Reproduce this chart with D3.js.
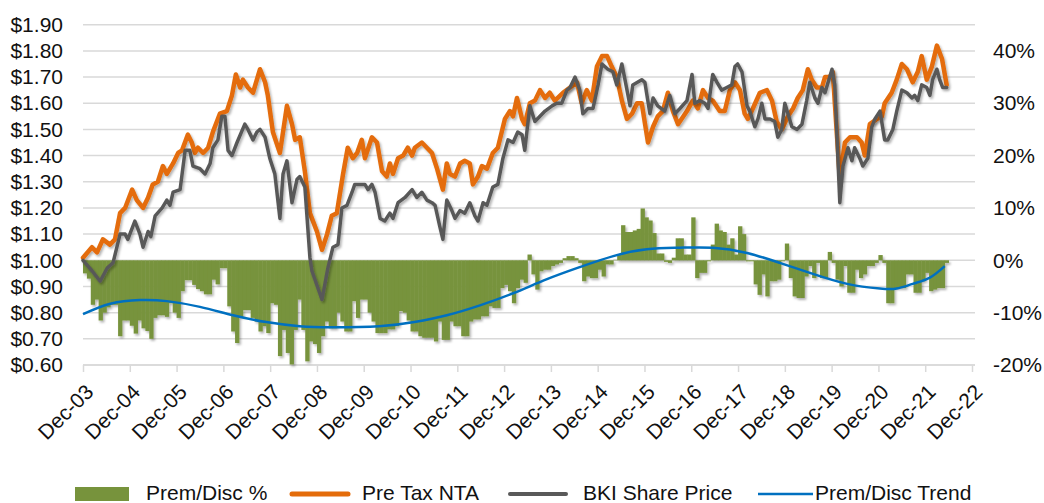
<!DOCTYPE html>
<html>
<head>
<meta charset="utf-8">
<script src="https://cdn.jsdelivr.net/npm/d3@7"></script>
<style>
	body { margin: 0; background: #fff; }
	svg { display: block; font-family: "Liberation Sans", Arial, sans-serif; }
</style>
</head>
<body>
<svg id="chart" width="1044" height="503"></svg>
<script>
/*********************************************************\
* BKI premium / discount to pre tax NTA                   *
\*********************************************************/

// x values are months since Dec-03
var yearLabels = ['Dec-03','Dec-04','Dec-05','Dec-06','Dec-07','Dec-08','Dec-09',
	'Dec-10','Dec-11','Dec-12','Dec-13','Dec-14','Dec-15','Dec-16','Dec-17',
	'Dec-18','Dec-19','Dec-20','Dec-21','Dec-22'];
var priceTicks = [0.6,0.7,0.8,0.9,1.0,1.1,1.2,1.3,1.4,1.5,1.6,1.7,1.8,1.9];
var pctTicks = [-20,-10,0,10,20,30,40];

// monthly premium / discount, %
var premDisc = [
	-2.5,-3.5,-8.5,-7.5,-11.5,-10,-9,-8.5,-8.5,-14.5,-11.5,-11.5,
	-12.5,-14,-11.5,-13,-13.5,-15,-11,-10.5,-10.5,-10.8,-8.2,-10,
	-11,-5.9,-3.8,-3.8,-4.7,-5.5,-5.9,-6.5,-6.5,-3.7,-4.6,-1.5,
	-1.5,-8.8,-13.6,-15.8,-10.8,-9.5,-9.5,-11,-11.7,-13.6,-12.6,-13.9,
	-8.2,-8.5,-18.3,-13.3,-17.7,-19.9,-13.3,-7.5,-13.3,-19.3,-15.5,-16,
	-17.7,-14.5,-11.7,-13,-13,-10,-11.7,-13.6,-13.6,-7.8,-11,-7.5,
	-7.5,-10,-11.7,-13.9,-13.9,-13.9,-13.2,-13.2,-12.6,-9.7,-10,-11.5,
	-13.6,-13.6,-14.5,-14.8,-14.8,-14.8,-15.5,-11.7,-15.2,-15.2,-11.7,-12.6,
	-12.6,-14.5,-14.5,-11.7,-11.3,-11.3,-10.7,-10.7,-8.8,-9.1,-9.1,-5.3,
	-4.7,-5.9,-8.2,-5.3,-3.7,-4.3,1.1,-2.7,-5.6,-2.1,-1.8,-1.8,
	-1.1,-0.8,-0.5,0.4,0.8,0.8,0.4,-0.5,-4,-3.1,-3.4,-3.4,
	-1.8,-3.1,-0.8,-0.8,0.1,1.1,6.7,5.4,5.4,5.7,6,9.9,
	8.2,7.6,5.2,1.3,1.3,-0.3,-0.5,0.5,4.2,4.2,1.1,1.1,
	8.2,-3.4,-2.4,-2.4,-0.2,3,7,5.7,5.4,3,4.2,1.1,
	6.5,5,-0.2,-0.2,-4.6,-6.6,-2.7,-6.9,-4,-4,-3.7,-0.2,
	3.2,-3.4,-6.9,-7.2,-7.2,-3.1,-1.1,-3.4,-0.5,-3.4,-3.4,1.6,
	-0.5,-3.7,-5,-1.1,-6.2,-6.2,-1.8,-3.4,-2.7,-1.1,-1.1,-0.5,
	1,-0.5,-8.2,-8.2,-5.3,-5.3,-5.3,-2.7,-2.7,-6.2,-6.2,-4,
	-2.4,-5.9,-5.6,-5.3,-5.3,-0.5
];

// [month, $]
var preTaxNta = [
	[0,1.01],[2.3,1.05],[3.6,1.03],[5.1,1.08],[6.9,1.06],[8.2,1.08],[9.5,1.18],[10.8,1.20],
	[12.6,1.27],[13.8,1.23],[15.4,1.20],[16.7,1.24],[17.9,1.29],[19.2,1.30],[20.5,1.36],[21.5,1.33],
	[23.1,1.37],[24.4,1.41],[25.4,1.42],[26.9,1.48],[27.9,1.45],[28.7,1.41],[29.5,1.43],[30.8,1.41],
	[32.1,1.43],[33.3,1.49],[35.1,1.56],[36.9,1.57],[38.2,1.63],[39.2,1.71],[40.3,1.66],[41.0,1.69],
	[42.3,1.66],[43.6,1.64],[45.4,1.73],[46.7,1.68],[47.4,1.63],[48.7,1.49],[50.5,1.41],[52.3,1.59],
	[53.6,1.52],[54.4,1.46],[55.6,1.47],[56.9,1.34],[58.2,1.18],[60.0,1.11],[61.3,1.04],[62.6,1.10],
	[63.8,1.17],[65.1,1.18],[66.7,1.33],[67.9,1.43],[69.2,1.39],[70.3,1.41],[71.5,1.46],[72.3,1.39],
	[74.1,1.47],[75.4,1.45],[76.7,1.34],[77.9,1.32],[78.7,1.37],[79.5,1.33],[80.8,1.39],[82.1,1.40],
	[83.3,1.43],[84.4,1.40],[85.1,1.43],[86.9,1.45],[88.2,1.43],[89.5,1.41],[90.8,1.35],[92.3,1.27],
	[93.3,1.37],[94.1,1.33],[95.4,1.32],[96.7,1.37],[97.9,1.38],[99.2,1.37],[100.0,1.29],[101.3,1.32],
	[102.3,1.36],[103.6,1.35],[105.1,1.41],[106.4,1.43],[108.2,1.54],[109.5,1.57],[110.3,1.55],[111.3,1.62],
	[112.6,1.54],[113.3,1.52],[114.6,1.60],[115.9,1.61],[117.2,1.65],[118.5,1.62],[119.7,1.64],[121.0,1.61],
	[123.1,1.64],[124.9,1.66],[126.7,1.68],[127.9,1.60],[129.2,1.65],[130.5,1.61],[131.8,1.74],[133.1,1.78],
	[134.4,1.78],[135.6,1.74],[136.9,1.70],[138.2,1.61],[139.5,1.54],[140.8,1.56],[142.1,1.60],[143.3,1.60],
	[144.9,1.45],[146.2,1.51],[147.4,1.55],[148.7,1.57],[150.0,1.64],[151.3,1.57],[152.6,1.52],[154.9,1.57],
	[156.4,1.61],[157.7,1.58],[159.0,1.65],[160.3,1.62],[161.5,1.61],[163.3,1.57],[164.6,1.57],[165.9,1.65],
	[167.2,1.68],[168.5,1.65],[169.7,1.56],[170.5,1.54],[171.8,1.58],[173.6,1.64],[175.4,1.65],[176.7,1.61],
	[177.9,1.53],[179.2,1.50],[180.8,1.55],[182.1,1.58],[183.3,1.62],[184.6,1.65],[185.9,1.73],[186.9,1.69],
	[188.2,1.66],[189.5,1.66],[190.3,1.70],[191.5,1.70],[192.3,1.72],[194.1,1.31],[195.4,1.45],[196.7,1.47],
	[198.5,1.47],[199.7,1.45],[200.5,1.40],[201.8,1.52],[203.6,1.54],[204.9,1.55],[205.6,1.60],[207.4,1.64],
	[208.7,1.69],[210.0,1.75],[211.3,1.73],[212.8,1.68],[214.1,1.72],[215.1,1.78],[216.4,1.69],[217.7,1.74],
	[219.0,1.82],[220.3,1.77],[221.5,1.67]
];

var sharePrice = [
	[0,1.00],[2.3,0.96],[4.4,0.92],[6.2,0.97],[7.7,0.99],[9.5,1.10],[10.8,1.10],[11.5,1.08],
	[13.3,1.15],[14.6,1.10],[15.4,1.05],[16.7,1.11],[17.4,1.09],[18.5,1.17],[20.3,1.20],[21.5,1.23],
	[22.3,1.21],[23.1,1.26],[24.9,1.27],[26.2,1.42],[27.4,1.42],[28.2,1.36],[30.0,1.35],[31.3,1.33],
	[32.6,1.37],[33.3,1.43],[34.6,1.46],[35.6,1.55],[36.4,1.55],[37.2,1.42],[38.2,1.40],[39.5,1.45],
	[41.5,1.52],[42.3,1.50],[43.6,1.46],[44.6,1.49],[45.4,1.50],[46.7,1.47],[47.9,1.39],[49.2,1.33],
	[50.5,1.16],[51.3,1.33],[52.3,1.38],[53.6,1.22],[54.9,1.31],[55.6,1.32],[56.9,1.28],[58.2,1.01],
	[58.7,0.96],[61.3,0.85],[62.8,0.97],[64.1,1.05],[65.4,1.06],[66.4,1.20],[67.7,1.21],[69.0,1.26],
	[69.7,1.29],[71.0,1.29],[72.3,1.29],[73.1,1.27],[74.1,1.29],[74.9,1.26],[76.2,1.16],[77.4,1.15],
	[78.7,1.18],[79.5,1.16],[80.8,1.22],[82.6,1.24],[84.4,1.27],[85.6,1.24],[86.9,1.26],[88.2,1.23],
	[89.5,1.22],[90.3,1.21],[91.5,1.13],[92.3,1.08],[93.3,1.23],[94.6,1.19],[95.4,1.16],[96.7,1.19],
	[97.9,1.18],[99.2,1.22],[100.5,1.17],[101.3,1.15],[102.6,1.22],[103.6,1.21],[105.1,1.28],[106.4,1.29],
	[107.7,1.39],[109.0,1.46],[110.3,1.45],[111.5,1.49],[112.6,1.48],[113.3,1.42],[114.6,1.59],[115.9,1.53],
	[117.2,1.55],[118.5,1.57],[120.3,1.59],[121.5,1.60],[122.8,1.60],[124.1,1.65],[124.9,1.66],[126.2,1.70],
	[127.4,1.65],[128.2,1.56],[129.5,1.58],[130.8,1.58],[132.1,1.67],[133.1,1.75],[134.6,1.73],[135.9,1.72],
	[136.9,1.67],[138.2,1.75],[139.0,1.69],[140.3,1.59],[141.0,1.67],[143.3,1.69],[144.1,1.68],[145.4,1.56],
	[146.2,1.62],[147.4,1.59],[149.2,1.57],[150.5,1.63],[151.8,1.56],[153.1,1.58],[154.9,1.61],[156.2,1.71],
	[156.9,1.60],[158.2,1.61],[159.5,1.60],[160.3,1.58],[161.5,1.71],[162.6,1.68],[163.8,1.65],[165.1,1.66],
	[166.4,1.67],[167.2,1.74],[167.9,1.75],[169.0,1.72],[170.3,1.59],[171.0,1.57],[172.3,1.51],[173.1,1.54],
	[174.1,1.60],[174.9,1.54],[176.2,1.54],[177.4,1.53],[178.2,1.47],[179.2,1.50],[180.0,1.60],[180.8,1.56],
	[181.8,1.51],[183.1,1.50],[184.4,1.52],[185.6,1.61],[186.4,1.68],[187.7,1.62],[188.5,1.60],[189.5,1.66],
	[190.3,1.64],[192.1,1.73],[192.8,1.67],[194.1,1.22],[194.9,1.36],[196.2,1.43],[197.2,1.38],[197.9,1.43],
	[199.2,1.39],[200.0,1.36],[201.3,1.39],[202.3,1.51],[203.1,1.54],[204.4,1.57],[205.6,1.46],[206.4,1.46],
	[207.7,1.50],[208.7,1.57],[210.0,1.65],[211.3,1.64],[212.6,1.62],[213.3,1.63],[214.1,1.61],[215.1,1.67],
	[216.4,1.66],[217.2,1.63],[217.9,1.69],[219.0,1.73],[219.7,1.69],[220.5,1.66],[221.5,1.66]
];

// [month, %]
var premDiscTrend = [
	[0,-10.3],[7,-8.3],[14.6,-7.6],[21.5,-7.8],[30,-8.9],[38.5,-10.5],[47,-11.8],[55.6,-12.6],
	[64,-12.8],[76,-12.6],[85,-11.8],[93.3,-10.5],[101.8,-8.6],[110.3,-6.3],[119,-3.6],[127.4,-1.3],
	[136,0.8],[144.6,2.1],[153,2.4],[161.5,2.4],[170.3,1.4],[178.7,-0.5],[187.2,-2.6],[196,-4.5],
	[204.4,-5.4],[208.7,-5.4],[212.8,-4.5],[217.2,-3.3],[221,-1.1]
];

//------------------------------------------------------------------------------

var svg = d3.select('#chart');

var plotLeft = 83, plotRight = 975, plotTop = 24.7, plotBottom = 365;

var x = d3.scaleLinear().domain([0, 228]).range([plotLeft, 972]);
var yPrice = d3.scaleLinear().domain([0.6, 1.9]).range([plotBottom, plotTop]);
var yPct = d3.scaleLinear().domain([-20, 45]).range([plotBottom, plotTop]);

var defs = svg.append('defs');
defs.append('filter')
	.attr('id', 'shadow')
	.attr('x', '-5%').attr('y', '-5%')
	.attr('width', '110%').attr('height', '120%')
	.append('feDropShadow')
	.attr('dx', 1.5).attr('dy', 2)
	.attr('stdDeviation', 1.3)
	.attr('flood-color', '#000')
	.attr('flood-opacity', 0.3)
;

// grid
svg.append('g')
	.attr('class', 'grid')
	.selectAll('line')
	.data(priceTicks)
	.enter()
	.append('line')
	.attr('x1', plotLeft)
	.attr('x2', plotRight)
	.attr('y1', function (d) { return yPrice(d); })
	.attr('y2', function (d) { return yPrice(d); })
	.attr('stroke', '#d9d9d9')
	.attr('stroke-width', 1.5)
;

// bottom axis
var xAxis = svg.append('g')
	.attr('transform', 'translate(0,' + plotBottom + ')')
	.call(d3.axisBottom(x)
		.tickValues(yearLabels.map(function (d, i) { return i * 12; }))
		.tickFormat(function (d, i) { return yearLabels[i]; })
		.tickSize(7)
		.tickSizeOuter(0))
;
xAxis.select('.domain').attr('stroke', '#d9d9d9').attr('stroke-width', 1.5)
	.attr('d', 'M' + plotLeft + ',0H' + plotRight);
xAxis.selectAll('.tick line').attr('stroke', '#d9d9d9').attr('stroke-width', 1.5);
xAxis.selectAll('.tick text')
	.attr('font-size', 21)
	.attr('fill', '#111')
	.attr('text-anchor', 'end')
	.attr('x', 0).attr('y', 0).attr('dy', '0.35em')
	.attr('transform', 'translate(6,23) rotate(-45)')
;

// left axis
var yAxisL = svg.append('g')
	.attr('transform', 'translate(' + plotLeft + ',0)')
	.call(d3.axisLeft(yPrice)
		.tickValues(priceTicks)
		.tickFormat(d3.format('$.2f'))
		.tickSize(0)
		.tickPadding(20))
;
yAxisL.select('.domain').remove();
yAxisL.selectAll('text').attr('font-size', 21).attr('fill', '#111');

// right axis
var yAxisR = svg.append('g')
	.attr('transform', 'translate(' + plotRight + ',0)')
	.call(d3.axisRight(yPct)
		.tickValues(pctTicks)
		.tickFormat(function (d) { return d + '%'; })
		.tickSize(0)
		.tickPadding(18))
;
yAxisR.select('.domain').remove();
yAxisR.selectAll('text').attr('font-size', 21).attr('fill', '#111');

// premium / discount bars
svg.append('g')
	.attr('filter', 'url(#shadow)')
	.selectAll('rect')
	.data(premDisc)
	.enter()
	.append('rect')
	.attr('x', function (d, i) { return x(i); })
	.attr('width', function (d, i) { return x(i + 1) - x(i) + 0.4; })
	.attr('y', function (d) { return Math.min(yPct(d), yPct(0)); })
	.attr('height', function (d) { return Math.abs(yPct(d) - yPct(0)); })
	.attr('fill', '#77933c')
;

function drawLine(data, yScale, colour, width)
{
	svg.append('path')
		.datum(data)
		.attr('fill', 'none')
		.attr('stroke', colour)
		.attr('stroke-width', width)
		.attr('stroke-linejoin', 'round')
		.attr('stroke-linecap', 'round')
		.attr('filter', 'url(#shadow)')
		.attr('d', d3.line()
			.x(function (d) { return x(d[0]); })
			.y(function (d) { return yScale(d[1]); }))
	;
}

drawLine(preTaxNta, yPrice, '#e46c0a', 4.5);
drawLine(sharePrice, yPrice, '#595959', 3.5);

svg.append('path')
	.datum(premDiscTrend)
	.attr('fill', 'none')
	.attr('stroke', '#0070c0')
	.attr('stroke-width', 2.5)
	.attr('d', d3.line()
		.curve(d3.curveNatural)
		.x(function (d) { return x(d[0]); })
		.y(function (d) { return yPct(d[1]); }))
;

// legend
var legend = svg.append('g').attr('font-size', 21).attr('fill', '#111');
legend.append('rect')
	.attr('x', 75).attr('y', 487).attr('width', 54).attr('height', 14)
	.attr('fill', '#77933c');
legend.append('text').attr('x', 146).attr('y', 500).text('Prem/Disc %');

legend.append('line')
	.attr('x1', 292).attr('x2', 348).attr('y1', 494).attr('y2', 494)
	.attr('stroke', '#e46c0a').attr('stroke-width', 5).attr('stroke-linecap', 'round');
legend.append('text').attr('x', 362).attr('y', 500).text('Pre Tax NTA');

legend.append('line')
	.attr('x1', 510).attr('x2', 566).attr('y1', 494).attr('y2', 494)
	.attr('stroke', '#595959').attr('stroke-width', 4).attr('stroke-linecap', 'round');
legend.append('text').attr('x', 583).attr('y', 500).text('BKI Share Price');

legend.append('line')
	.attr('x1', 758).attr('x2', 813).attr('y1', 494).attr('y2', 494)
	.attr('stroke', '#0070c0').attr('stroke-width', 2.5);
legend.append('text').attr('x', 815).attr('y', 500).text('Prem/Disc Trend');
</script>
</body>
</html>
